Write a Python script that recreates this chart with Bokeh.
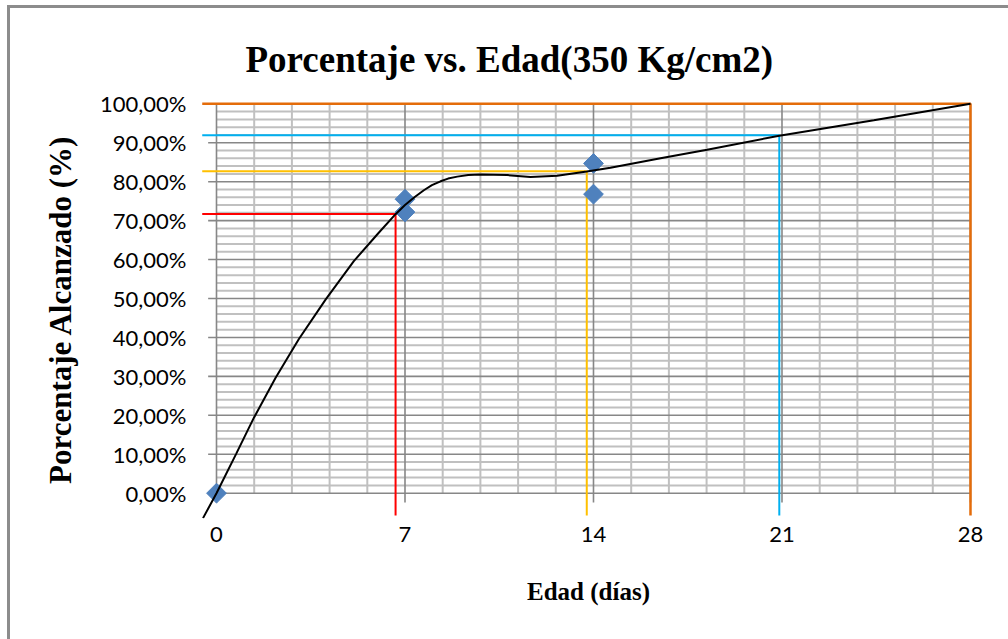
import numpy as np
from bokeh.plotting import figure
from bokeh.models import Range1d, FixedTicker
from bokeh.embed import file_html
from bokeh.resources import INLINE

# ---------------- data ----------------
obs_days = [0, 7, 7, 14, 14]
obs_pct = [0.0, 75.5, 72.2, 84.7, 76.8]

curve_days = [-0.50, 0.00, 0.73, 1.39, 2.19, 3.06, 4.05, 5.10, 6.00, 6.65, 7.00,
              7.35, 7.70, 8.00, 8.32, 8.60, 8.94, 9.35, 9.80, 10.79, 11.66, 12.65,
              13.75, 14.63, 16.49, 18.22, 20.90, 24.41, 28.00]
curve_pct = [-6.4, 0.0, 10.1, 19.4, 29.6, 39.6, 49.7, 59.6, 66.7, 71.65, 74.0,
             76.0, 77.8, 79.1, 80.1, 80.8, 81.3, 81.7, 81.85, 81.7, 81.2, 81.5,
             82.6, 83.6, 86.0, 88.2, 91.8, 95.8, 100.0]

red_x = [-0.53, 6.65, 6.65]
red_y = [71.7, 71.7, -5.75]
yellow_x = [-0.53, 13.75, 13.75]
yellow_y = [82.7, 82.7, -5.75]
cyan_x = [-0.53, 20.90, 20.90]
cyan_y = [91.9, 91.9, -5.75]
orange_x = [-0.53, 28.0, 28.0]
orange_y = [100.0, 100.0, -5.75]

x_ticks = [0, 7, 14, 21, 28]
y_ticks = [0, 10, 20, 30, 40, 50, 60, 70, 80, 90, 100]
y_tick_labels = ["0,00%", "10,00%", "20,00%", "30,00%", "40,00%", "50,00%",
                 "60,00%", "70,00%", "80,00%", "90,00%", "100,00%"]

title_text = "Porcentaje vs. Edad(350 Kg/cm2)"
x_title = "Edad (días)"
y_title = "Porcentaje Alcanzado (%)"

# ---------------- figure ----------------
p = figure(width=1008, height=639, output_backend="svg", toolbar_location=None,
           x_range=Range1d(-0.557, 28.186), y_range=Range1d(-6.5, 100.85),
           min_border_left=201, min_border_right=33,
           min_border_top=100, min_border_bottom=121)
p.background_fill_color = "white"
p.border_fill_color = None
p.outline_line_color = None
p.xgrid.visible = False
p.ygrid.visible = False
# chart-area frame (left and top edges only, as in the reference crop)
p.styles = {"box-shadow": "inset 7px 5px 0 0 #ffffff, inset 10px 8px 0 0 #8c8c8c",
            "background-color": "#ffffff"}

p.title.text = title_text
p.title.text_font = "Liberation Serif"
p.title.text_font_size = "37px"
p.title.text_font_style = "bold"
p.title.text_color = "black"
p.title.align = "left"
p.title.offset = 44
p.title.standoff = 41

# axes: labels only, lines drawn as grid segments
for ax in (p.xaxis[0], p.yaxis[0]):
    ax.axis_line_color = None
    ax.major_tick_line_color = None
    ax.minor_tick_line_color = None
    ax.major_label_text_font = "Lato"
    ax.major_label_text_font_size = "22px"
    ax.major_label_text_color = "black"
    ax.axis_label_text_font = "Liberation Serif"
    ax.axis_label_text_font_style = "bold"
    ax.axis_label_text_color = "black"

p.xaxis.ticker = FixedTicker(ticks=x_ticks, minor_ticks=[])
p.xaxis.major_label_standoff = 2
p.xaxis.axis_label = x_title
p.xaxis.axis_label_text_font_size = "25px"
p.xaxis.axis_label_standoff = 33

p.yaxis.ticker = FixedTicker(ticks=y_ticks, minor_ticks=[])
p.yaxis.major_label_overrides = {t: l for t, l in zip(y_ticks, y_tick_labels)}
p.yaxis.major_label_standoff = 9
p.yaxis.axis_label = y_title
p.yaxis.axis_label_text_font_size = "31px"
p.yaxis.axis_label_standoff = 19

# ---------------- plot-area grid (Excel style) ----------------
minor_col = "#c0c0c0"
major_col = "#878787"
x_minor = [x for x in np.arange(0, 28.01, 1.4) if abs(x / 7 - round(x / 7)) > 1e-6]
y_minor = [y for y in np.arange(0, 100.01, 2) if abs(y / 10 - round(y / 10)) > 1e-6]
p.segment(x0=x_minor, y0=0, x1=x_minor, y1=100, line_color=minor_col, line_width=2)
p.segment(x0=0, y0=y_minor, x1=28, y1=y_minor, line_color=minor_col, line_width=2)
p.segment(x0=-0.31, y0=y_ticks, x1=28, y1=y_ticks, line_color=major_col, line_width=1.6)
p.segment(x0=x_ticks, y0=-2.4, x1=x_ticks, y1=100, line_color=major_col, line_width=1.6)

# ---------------- reference lines ----------------
p.line(red_x, red_y, line_color="#FF0000", line_width=2)
p.line(yellow_x, yellow_y, line_color="#FFC000", line_width=2)
p.line(cyan_x, cyan_y, line_color="#00B0F0", line_width=2)
p.line(orange_x, orange_y, line_color="#E46C0A", line_width=2.5)

# ---------------- observations & trend ----------------
p.scatter(obs_days, obs_pct, marker="square", angle=np.pi / 4, size=14,
          fill_color="#4F81BD", line_color="#4F81BD")
p.line(curve_days, curve_pct, line_color="black", line_width=2)

open("out.html", "w").write(file_html(p, INLINE))
